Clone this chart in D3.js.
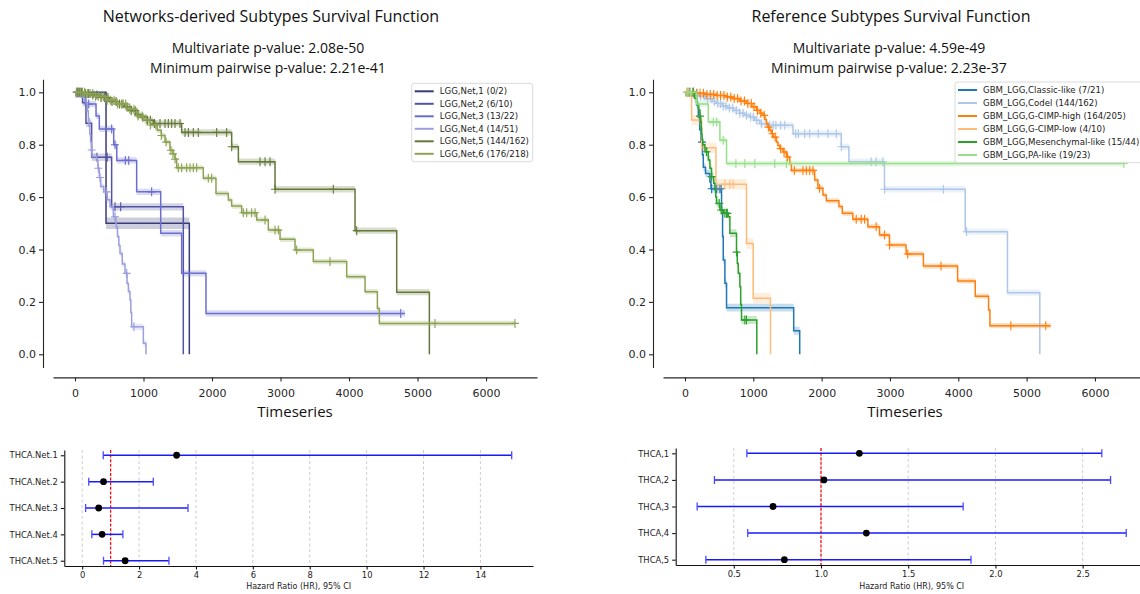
<!DOCTYPE html>
<html><head><meta charset="utf-8">
<script src="https://cdn.jsdelivr.net/npm/d3@7"></script>
<style>body{margin:0;background:#fff} svg{display:block}</style>
</head><body>
<svg id="c" width="1140" height="594"></svg>
<script>
// ================= DATA =================
const leftTitle = "Networks-derived Subtypes Survival Function";
const leftPvals = ["Multivariate p-value: 2.08e-50", "Minimum pairwise p-value: 2.21e-41"];
const rightTitle = "Reference Subtypes Survival Function";
const rightPvals = ["Multivariate p-value: 4.59e-49", "Minimum pairwise p-value: 2.23e-37"];
const kmXLabel = "Timeseries";
const kmTicksX = [0, 1000, 2000, 3000, 4000, 5000, 6000];
const kmTicksY = [0, 0.2, 0.4, 0.6, 0.8, 1.0];

// Networks-derived subtypes: step points [time, survival], censor times
const netLabels = ["LGG,Net,1 (0/2)", "LGG,Net,2 (6/10)", "LGG,Net,3 (13/22)", "LGG,Net,4 (14/51)", "LGG,Net,5 (144/162)", "LGG,Net,6 (176/218)"];
const netColors = ["#393b79", "#5254a3", "#6b6ecf", "#9c9ede", "#637939", "#8ca252"];
const net1Steps = [[0,1],[453,0.5],[1669,0]];
const net1Cens = [];
const net2Steps = [[0,1],[110,0.96],[160,0.882],[243,0.752],[535,0.563],[1581,0]];
const net2Cens = [30, 60, 320, 470, 584, 667];
const net3Steps = [[0,1],[150,0.955],[307,0.91],[355,0.86],[565,0.80],[610,0.74],[900,0.62],[1251,0.462],[1557,0.309],[1912,0.156],[4818,0.156]];
const net3Cens = [40, 90, 200, 535, 584, 735, 784, 1119, 4755];
const net4Steps = [[0,1],[125,0.98],[165,0.96],[180,0.93],[195,0.90],[205,0.87],[215,0.84],[228,0.81],[240,0.78],[250,0.755],[316,0.74],[335,0.71],[355,0.675],[375,0.64],[420,0.62],[470,0.59],[511,0.563],[560,0.525],[599,0.487],[620,0.45],[640,0.415],[657,0.385],[690,0.345],[730,0.309],[760,0.27],[780,0.24],[803,0.207],[815,0.16],[827,0.105],[998,0.042],[1036,0]];
const net4Cens = [100, 140, 243, 340, 365, 462, 584, 755, 860];
const net5Steps = [[0,1],[120,0.995],[250,0.99],[380,0.98],[500,0.965],[620,0.955],[720,0.945],[820,0.93],[900,0.915],[960,0.905],[1050,0.893],[1143,0.881],[1557,0.847],[2287,0.792],[2385,0.735],[2920,0.63],[4088,0.472],[4696,0.237],[5173,0]];
const net5Cens = [30, 60, 100, 150, 200, 260, 320, 380, 430, 480, 540, 600, 650, 700, 760, 820, 880, 920, 990, 1060, 1100, 1160, 1241, 1314, 1362, 1411, 1460, 1533, 1606, 1655, 1727, 1800, 2068, 2214, 2287, 2701, 2774, 2847, 2920, 3771, 4112];
const net6Steps = [[0,1],[150,0.995],[300,0.985],[450,0.97],[600,0.955],[750,0.935],[900,0.91],[1000,0.895],[1100,0.875],[1200,0.855],[1260,0.835],[1314,0.81],[1387,0.779],[1430,0.765],[1460,0.745],[1484,0.712],[1873,0.672],[2058,0.614],[2238,0.589],[2287,0.566],[2433,0.54],[2652,0.513],[2822,0.474],[2993,0.439],[3212,0.398],[3479,0.354],[3966,0.296],[4234,0.239],[4414,0.175],[4443,0.118],[6423,0.118]];
const net6Cens = [20, 50, 80, 110, 140, 180, 220, 260, 300, 340, 380, 420, 470, 520, 570, 620, 680, 740, 800, 860, 920, 980, 1040, 1100, 1180, 1260, 1330, 1400, 1430, 1460, 1508, 1557, 1630, 1679, 1727, 1776, 1946, 1995, 2457, 2506, 2579, 2628, 2774, 2920, 2969, 3236, 3722, 5255, 6423];
const netCI = [0.022, 0.014, 0.012, 0.012, 0.012, 0.01];

// Reference subtypes
const refLabels = ["GBM_LGG,Classic-like (7/21)", "GBM_LGG,Codel (144/162)", "GBM_LGG,G-CIMP-high (164/205)", "GBM_LGG,G-CIMP-low (4/10)", "GBM_LGG,Mesenchymal-like (15/44)", "GBM_LGG,PA-like (19/23)"];
const refColors = ["#1f77b4", "#aec7e8", "#ff7f0e", "#ffbb78", "#2ca02c", "#98df8a"];
const classicSteps = [[0,1],[170,0.952],[195,0.905],[215,0.857],[235,0.81],[255,0.762],[268,0.714],[300,0.69],[365,0.658],[380,0.632],[535,0.55],[550,0.45],[560,0.36],[584,0.271],[608,0.178],[1591,0.09],[1679,0]];
const classicCens = [60, 120, 250, 389, 462, 511, 530];
const codelSteps = [[0,1],[100,0.995],[200,0.985],[300,0.975],[400,0.965],[462,0.957],[550,0.948],[620,0.94],[706,0.931],[800,0.92],[870,0.912],[949,0.906],[1020,0.893],[1095,0.88],[1192,0.874],[1581,0.842],[2287,0.792],[2399,0.735],[2920,0.63],[4102,0.468],[4720,0.235],[5193,0]];
const codelCens = [40, 80, 130, 180, 230, 280, 330, 380, 430, 480, 520, 560, 600, 650, 700, 750, 800, 850, 900, 960, 1000, 1050, 1120, 1240, 1290, 1330, 1400, 1460, 1620, 1660, 1752, 1825, 1950, 2092, 2214, 2287, 2725, 2798, 2896, 2920, 3781, 4121];
const highSteps = [[0,1],[150,0.996],[300,0.992],[462,0.988],[600,0.982],[706,0.976],[800,0.967],[900,0.957],[980,0.945],[1046,0.931],[1100,0.92],[1143,0.912],[1170,0.896],[1192,0.88],[1215,0.867],[1241,0.855],[1265,0.842],[1290,0.829],[1338,0.81],[1360,0.797],[1387,0.785],[1436,0.772],[1484,0.753],[1533,0.728],[1557,0.702],[1898,0.665],[1946,0.634],[2019,0.608],[2068,0.586],[2253,0.564],[2302,0.538],[2457,0.515],[2676,0.487],[2847,0.455],[2993,0.417],[3236,0.383],[3489,0.337],[3990,0.28],[4248,0.222],[4443,0.169],[4463,0.109],[5353,0.109]];
const highCens = [30, 70, 120, 170, 220, 270, 320, 370, 420, 470, 520, 570, 620, 670, 720, 770, 820, 870, 920, 970, 1010, 1060, 1110, 1160, 1220, 1280, 1320, 1400, 1450, 1500, 1600, 1727, 1776, 1825, 1873, 1970, 2506, 2579, 2628, 2798, 2920, 2993, 3260, 3747, 4769, 5280];
const lowSteps = [[0,1],[97,0.894],[243,0.788],[453,0.649],[900,0.423],[998,0.214],[1251,0]];
const lowCens = [584, 657, 705];
const mesSteps = [[0,1],[140,0.977],[170,0.955],[200,0.932],[219,0.909],[230,0.886],[237,0.863],[243,0.84],[250,0.82],[260,0.8],[292,0.773],[341,0.742],[365,0.71],[389,0.678],[420,0.653],[438,0.627],[450,0.6],[462,0.576],[511,0.551],[560,0.538],[633,0.525],[657,0.462],[754,0.39],[765,0.347],[779,0.309],[803,0.258],[815,0.19],[827,0.131],[1051,0]];
const mesCens = [120, 219, 316, 389, 501, 530, 584, 608, 620, 754, 876, 900];
const paSteps = [[0,1],[170,0.955],[341,0.887],[511,0.817],[608,0.728],[6440,0.728]];
const paCens = [40, 80, 414, 462, 560, 745, 876, 1022, 1314, 1484, 6423];
const refCI = [0.015, 0.012, 0.01, 0.02, 0.015, 0.011];

// Forest plots (hazard ratios with 95% CI)
const forestXLabel = "Hazard Ratio (HR), 95% CI";
const netForestLabels = ["THCA.Net.1", "THCA.Net.2", "THCA.Net.3", "THCA.Net.4", "THCA.Net.5"];
const netHR = [3.32, 0.75, 0.58, 0.70, 1.51];
const netLo = [0.74, 0.23, 0.12, 0.34, 0.75];
const netHi = [15.1, 2.50, 3.72, 1.43, 3.05];
const netForestTicks = [0, 2, 4, 6, 8, 10, 12, 14];
const refForestLabels = ["THCA,1", "THCA,2", "THCA,3", "THCA,4", "THCA,5"];
const refHR = [1.22, 1.017, 0.725, 1.26, 0.79];
const refLo = [0.575, 0.389, 0.29, 0.58, 0.34];
const refHi = [2.61, 2.66, 1.815, 2.75, 1.86];
const refForestTicks = [0.5, 1.0, 1.5, 2.0, 2.5];

// ================= DRAWING =================
const svg = d3.select("#c");
const FONT = "'DejaVu Sans', sans-serif";
const TFONT = "'Open Sans', sans-serif";
const AX = "#262626";

function survAt(steps, t) {
  let s = steps[0][1];
  for (const d of steps) { if (d[0] <= t) s = d[1]; else break; }
  return s;
}

function kmPanel(o) {
  const g = svg.append("g");
  const tMax = d3.max(o.series, s => d3.max(s.steps, d => d[0]));
  const x = d3.scaleLinear().domain([-0.05 * tMax, 1.05 * tMax]).range([53 + o.dx, 537 + o.dx]);
  const y = d3.scaleLinear().domain([-0.05, 1.05]).range([367.4, 79.2]);

  // axes
  const ya = g.append("g").attr("transform", `translate(${43 + o.dx},0)`)
    .call(d3.axisLeft(y).tickValues(kmTicksY).tickFormat(d3.format(".1f")).tickSize(4).tickSizeOuter(0).tickPadding(3));
  const xa = g.append("g").attr("transform", `translate(0,377.4)`)
    .call(d3.axisBottom(x).tickValues(kmTicksX).tickFormat(d3.format("d")).tickSize(4).tickSizeOuter(0).tickPadding(8));
  [ya, xa].forEach(a => {
    a.selectAll("path,line").attr("stroke", AX).attr("stroke-width", 1.1);
    a.selectAll("text").attr("font-family", FONT).attr("font-size", 11).attr("fill", AX);
  });

  const line = d3.line().x(d => x(d[0])).y(d => y(d[1])).curve(d3.curveStepAfter);
  const area = d3.area().x(d => x(d[0])).curve(d3.curveStepAfter);

  o.series.forEach((s, i) => {
    const col = o.colors[i];
    // band
    let bd = s.steps.slice();
    const last = bd[bd.length - 1];
    if (last[1] === 0) bd = bd.slice(0, -1).concat([[last[0], bd[bd.length - 2][1]]]);
    g.append("path").datum(bd)
      .attr("d", area.y0(d => y(Math.max(0, d[1] - s.ci))).y1(d => y(Math.min(1, d[1] + s.ci))))
      .attr("fill", col).attr("fill-opacity", 0.25).attr("stroke", "none");
    g.append("path").datum(s.steps).attr("d", line)
      .attr("fill", "none").attr("stroke", col).attr("stroke-width", 1.5);
    g.append("g").selectAll("path").data(s.cens).join("path")
      .attr("d", t => { const px = x(t), py = y(survAt(s.steps, t)); return `M${px - 4},${py}H${px + 4}M${px},${py - 4.5}V${py + 4.5}`; })
      .attr("stroke", col).attr("stroke-width", 1.1).attr("fill", "none");
  });

  // legend
  const L = o.legend;
  const lg = g.append("g");
  lg.append("rect").attr("x", L.x).attr("y", L.y).attr("width", L.w).attr("height", L.h)
    .attr("rx", 2.5).attr("fill", "#fff").attr("fill-opacity", 0.85).attr("stroke", "#d6d6d6").attr("stroke-width", 0.9);
  o.labels.forEach((lab, i) => {
    const yy = L.y + 8 + i * L.step;
    lg.append("line").attr("x1", L.x + 3).attr("x2", L.x + 22).attr("y1", yy).attr("y2", yy)
      .attr("stroke", o.colors[i]).attr("stroke-width", 2);
    lg.append("text").attr("x", L.x + 28).attr("y", yy).attr("dy", "0.35em")
      .attr("font-family", FONT).attr("font-size", 8.6).attr("fill", "#222").text(lab);
  });

  // titles
  g.append("text").attr("x", o.titleX).attr("y", 16).attr("dy", "0.35em").attr("text-anchor", "middle")
    .attr("font-family", TFONT).attr("font-size", 16).attr("fill", "#111").text(o.title);
  o.pvals.forEach((p, i) => {
    g.append("text").attr("x", o.pX).attr("y", 48 + 20 * i).attr("dy", "0.35em").attr("text-anchor", "middle")
      .attr("font-family", TFONT).attr("font-size", 14).attr("fill", "#111").text(p);
  });
  g.append("text").attr("x", (53 + 537) / 2 + o.dx).attr("y", 412).attr("dy", "0.35em").attr("text-anchor", "middle")
    .attr("font-family", TFONT).attr("font-size", 15).attr("fill", "#111").text(kmXLabel);
}

kmPanel({
  dx: 0, colors: netColors, labels: netLabels, title: leftTitle, pvals: leftPvals, titleX: 271, pX: 268,
  series: [net1Steps, net2Steps, net3Steps, net4Steps, net5Steps, net6Steps].map((st, i) => ({
    steps: st, cens: [net1Cens, net2Cens, net3Cens, net4Cens, net5Cens, net6Cens][i], ci: netCI[i] })),
  legend: { x: 411.7, y: 83.3, w: 121, h: 78.4, step: 12.5 }
});
kmPanel({
  dx: 610, colors: refColors, labels: refLabels, title: rightTitle, pvals: rightPvals, titleX: 891, pX: 889,
  series: [classicSteps, codelSteps, highSteps, lowSteps, mesSteps, paSteps].map((st, i) => ({
    steps: st, cens: [classicCens, codelCens, highCens, lowCens, mesCens, paCens][i], ci: refCI[i] })),
  legend: { x: 955, y: 82, w: 192, h: 80.7, step: 13 }
});

function forest(o) {
  const g = svg.append("g");
  const lo = d3.min(o.lo), hi = d3.max(o.hi), r = hi - lo;
  const x = d3.scaleLinear().domain([lo - 0.05 * r, hi + 0.05 * r]).range(o.xr);
  const n = o.labels.length;
  const y = d3.scaleLinear().domain([-0.2, n - 1 + 0.2]).range(o.yr);
  // grid
  g.append("g").selectAll("line").data(o.ticks).join("line")
    .attr("x1", d => x(d)).attr("x2", d => x(d)).attr("y1", o.yr[0]).attr("y2", o.yr[1])
    .attr("stroke", "#c8c8c8").attr("stroke-width", 0.9).attr("stroke-dasharray", "3,2.5");
  // reference line
  g.append("line").attr("x1", x(1)).attr("x2", x(1)).attr("y1", o.yr[0]).attr("y2", o.yr[1])
    .attr("stroke", "#ff0000").attr("stroke-width", 1.2).attr("stroke-dasharray", "3,1.6");
  // axes
  const ya = g.append("g").attr("transform", `translate(${o.xr[0]},0)`)
    .call(d3.axisLeft(y).tickValues(d3.range(n)).tickFormat(i => o.labels[i]).tickSize(3.5).tickSizeOuter(0).tickPadding(3));
  const xa = g.append("g").attr("transform", `translate(0,${o.yr[1]})`)
    .call(d3.axisBottom(x).tickValues(o.ticks).tickFormat(o.fmt).tickSize(3.5).tickSizeOuter(0).tickPadding(2.5));
  [ya, xa].forEach(a => {
    a.selectAll("path,line").attr("stroke", "#111").attr("stroke-width", 1.1);
    a.selectAll("text").attr("font-family", FONT).attr("font-size", 8.4).attr("fill", "#222");
  });
  // error bars
  const rows = g.append("g").selectAll("g").data(d3.range(n)).join("g");
  rows.append("line").attr("x1", i => x(o.lo[i])).attr("x2", i => x(o.hi[i])).attr("y1", i => y(i)).attr("y2", i => y(i))
    .attr("stroke", "#1a1aff").attr("stroke-width", 1.5);
  rows.append("path").attr("d", i => `M${x(o.lo[i])},${y(i) - 4}V${y(i) + 4}M${x(o.hi[i])},${y(i) - 4}V${y(i) + 4}`)
    .attr("stroke", "#4a4aff").attr("stroke-width", 1.3).attr("fill", "none");
  rows.append("circle").attr("cx", i => x(o.hr[i])).attr("cy", i => y(i)).attr("r", 3.4).attr("fill", "#000");
  g.append("text").attr("x", (o.xr[0] + o.xr[1]) / 2).attr("y", 586).attr("dy", "0.35em").attr("text-anchor", "middle")
    .attr("font-family", FONT).attr("font-size", 8).attr("fill", "#222").text(forestXLabel);
}

forest({ labels: netForestLabels, hr: netHR, lo: netLo, hi: netHi, ticks: netForestTicks, fmt: d3.format("d"),
  xr: [64.3, 533], yr: [450, 566] });
forest({ labels: refForestLabels, hr: refHR, lo: refLo, hi: refHi, ticks: refForestTicks, fmt: d3.format(".1f"),
  xr: [675.7, 1147.7], yr: [448, 565] });
</script>
</body></html>
